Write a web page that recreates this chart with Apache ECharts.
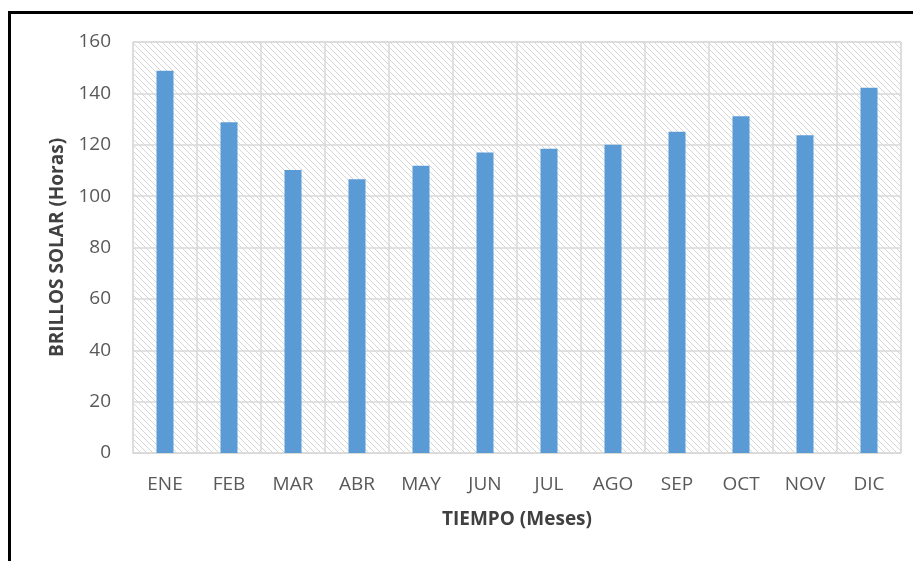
<!DOCTYPE html>
<html>
<head>
<meta charset="utf-8">
<style>
  html, body { margin: 0; padding: 0; background: #ffffff; }
  #chart { width: 913px; height: 561px; }
</style>
<script src="https://cdn.jsdelivr.net/npm/echarts@6/dist/echarts.min.js"></script>
</head>
<body>
<div id="chart"></div>
<script>
// Monthly sunshine hours
const months = ['ENE', 'FEB', 'MAR', 'ABR', 'MAY', 'JUN', 'JUL', 'AGO', 'SEP', 'OCT', 'NOV', 'DIC'];
const sunshineHours = [148.8, 128.8, 110.2, 106.6, 111.8, 117.0, 118.4, 120.0, 125.1, 131.1, 123.7, 142.2];
const yTicks = { min: 0, max: 160, interval: 20 };

// Diagonal hatch tile for the plot background
function hatchPattern() {
  const n = 6;
  const c = document.createElement('canvas');
  c.width = n; c.height = n;
  const g = c.getContext('2d');
  g.fillStyle = '#ffffff';
  g.fillRect(0, 0, n, n);
  g.strokeStyle = '#d6d6d6';
  g.lineWidth = 1;
  g.beginPath();
  g.moveTo(-1, -1); g.lineTo(n + 1, n + 1);
  g.moveTo(-1, n - 1); g.lineTo(1, n + 1);
  g.moveTo(n - 1, -1); g.lineTo(n + 1, 1);
  g.stroke();
  return { image: c, repeat: 'repeat' };
}

const chart = echarts.init(document.getElementById('chart'), null, { renderer: 'canvas' });
const labelFont = '"Open Sans", "Noto Sans", sans-serif';

chart.setOption({
  animation: false,
  backgroundColor: '#ffffff',
  grid: {
    left: 133, right: 12, top: 42, bottom: 108,
    show: true,
    backgroundColor: hatchPattern(),
    borderColor: '#d9d9d9',
    borderWidth: 1
  },
  graphic: [
    { type: 'rect', shape: { x: 8, y: 11, width: 920, height: 3 }, style: { fill: '#000000' }, z: 100 },
    { type: 'rect', shape: { x: 8, y: 11, width: 3, height: 560 }, style: { fill: '#000000' }, z: 100 }
  ],
  xAxis: {
    type: 'category',
    data: months,
    name: 'TIEMPO (Meses)',
    nameLocation: 'middle',
    nameGap: 57,
    nameTextStyle: { color: '#404040', fontSize: 19, fontWeight: 'bold', fontFamily: labelFont },
    axisLine: { show: true, lineStyle: { color: '#d9d9d9', width: 1 } },
    axisTick: { show: false },
    axisLabel: { color: '#595959', fontSize: 19, margin: 22, fontFamily: labelFont },
    splitLine: { show: true, lineStyle: { color: '#d9d9d9', width: 1.5 } }
  },
  yAxis: {
    type: 'value',
    min: yTicks.min,
    max: yTicks.max,
    interval: yTicks.interval,
    name: 'BRILLOS SOLAR (Horas)',
    nameLocation: 'middle',
    nameGap: 66,
    nameTextStyle: { color: '#404040', fontSize: 19, fontWeight: 'bold', fontFamily: labelFont },
    axisLine: { show: false },
    axisTick: { show: false },
    axisLabel: { color: '#595959', fontSize: 19, margin: 22, fontFamily: labelFont },
    splitLine: { show: true, lineStyle: { color: '#d9d9d9', width: 1.5 } }
  },
  series: [{
    type: 'bar',
    data: sunshineHours,
    barWidth: 17,
    itemStyle: { color: '#5b9bd5' }
  }]
});
</script>
</body>
</html>
